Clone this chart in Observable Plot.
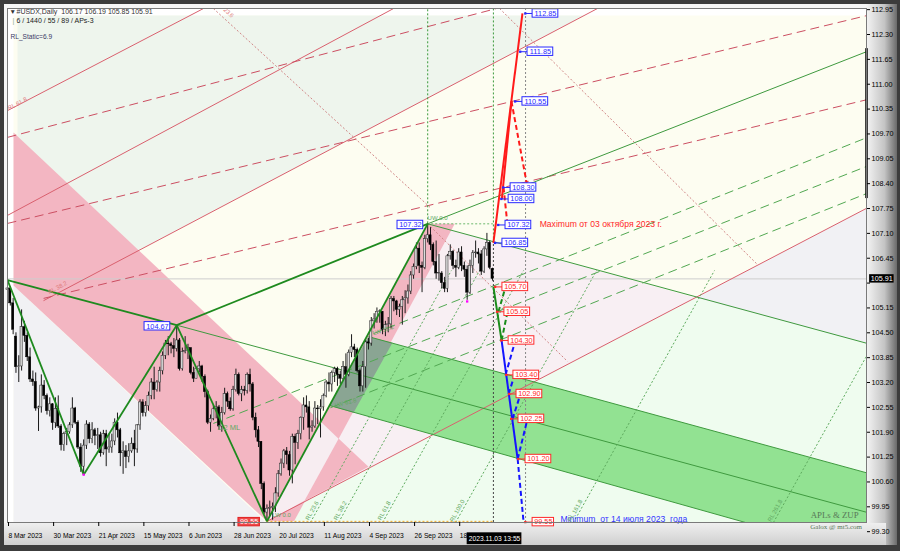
<!DOCTYPE html>
<html><head><meta charset="utf-8">
<script src="https://cdn.jsdelivr.net/npm/d3@7"></script>
<script src="https://cdn.jsdelivr.net/npm/@observablehq/plot@0.6"></script>
<style>
html,body{margin:0;padding:0;background:#3a3a3a;}
#wrap{position:relative;width:900px;height:551px;overflow:hidden;background:#3c3c3c;}
#panel{position:absolute;left:4px;top:4px;width:893px;height:541px;background:linear-gradient(to right,#f6f6f6 0%,#f6f6f6 96.5%,#c4c4c4 98.6%,#6a6a6a 100%);}
#bottom{position:absolute;left:4px;top:523px;width:882px;height:22px;background:linear-gradient(#efefef,#cfcfcf);}
#chart{position:absolute;left:0;top:0;}
</style></head>
<body><div id="wrap"><div id="panel"></div><div id="bottom"></div><div id="chart"></div></div>
<script>
// ---------- axis data ----------
const dateTicks = [0,16,32,48,64,80,96,112,128,144,160];
const dateLabels = ["8 Mar 2023","30 Mar 2023","21 Apr 2023","15 May 2023","6 Jun 2023","28 Jun 2023","20 Jul 2023","11 Aug 2023","4 Sep 2023","26 Sep 2023","18 Oct 2023"];
const priceTicks = [99.30,99.95,100.60,101.25,101.90,102.55,103.20,103.85,104.50,105.15,105.80,106.45,107.10,107.75,108.40,109.05,109.70,110.35,111.00,111.65,112.30,112.95];
const hiddenTick = 105.80; // covered by the current-price box
const currentPrice = 105.91;
const timeLabel = "2023.11.03 13:55";
const timeIdx = 172.7;

// ---------- daily candles (bar index 0 = 8 Mar 2023) ----------
const opens = [105.62,105.66,105.27,104.40,103.60,103.62,104.65,104.42,103.86,103.28,
103.21,102.52,102.55,103.12,102.85,102.45,102.63,102.14,102.51,102.05,
101.56,101.85,101.90,102.08,102.52,102.15,101.50,101.00,101.55,102.10,
101.72,101.95,101.80,101.82,101.35,101.85,101.45,101.50,101.66,102.15,
101.95,101.35,101.40,101.25,101.40,101.60,101.45,102.08,102.68,102.40,
102.58,102.85,103.20,103.00,103.20,103.50,103.90,104.22,104.20,104.15,
104.08,104.30,103.55,104.00,104.02,104.10,103.45,103.30,103.55,103.62,
103.35,102.95,102.15,102.25,102.50,102.55,102.05,102.40,102.90,102.70,
102.50,103.00,103.40,102.90,103.00,102.98,103.40,103.15,102.28,101.95,
101.65,100.55,99.80,99.90,99.92,99.95,100.30,100.80,101.08,101.40,
101.30,100.90,101.78,101.62,101.85,102.28,102.60,102.55,102.02,102.05,
102.52,102.50,102.55,102.85,103.20,103.15,103.45,103.55,103.40,103.30,
103.60,103.40,103.98,104.12,104.05,103.50,103.10,103.60,104.25,104.22,
104.80,104.85,105.05,105.05,104.58,104.70,104.72,105.38,105.32,105.10,
105.18,105.35,105.40,105.58,106.00,106.22,106.70,106.25,106.20,106.95,
107.05,106.80,106.35,106.05,106.05,105.80,105.65,106.50,106.62,106.25,
106.20,106.60,106.25,106.15,105.55,106.25,106.58,106.60,106.55,106.10,
106.68,106.85,106.17];
const highs = [105.88,105.70,105.40,104.50,103.90,105.10,104.80,104.50,104.10,103.50,
103.45,102.58,103.40,103.25,102.90,102.80,102.65,102.80,102.85,102.10,
101.90,102.00,102.15,102.80,102.55,102.20,101.60,101.70,102.20,102.15,
102.15,102.00,102.00,101.90,101.95,101.95,101.85,101.85,102.25,102.40,
102.00,101.65,101.55,101.60,101.75,101.95,102.10,102.75,102.75,102.70,
102.95,103.30,103.60,103.25,103.60,104.00,104.30,104.40,104.25,104.35,
104.70,104.35,104.10,104.40,104.20,104.10,103.60,103.60,103.75,103.65,
103.40,103.00,102.35,102.60,102.70,102.60,102.55,103.05,102.95,102.80,
103.10,103.55,103.45,103.10,103.10,103.45,103.55,103.20,102.40,102.05,
101.65,100.60,100.00,100.10,100.05,100.45,100.90,101.20,101.45,101.50,
101.40,101.85,101.85,101.95,102.30,102.80,102.85,102.70,102.20,102.70,
102.60,102.75,102.90,103.25,103.45,103.50,103.60,103.60,103.50,103.75,
103.95,104.05,104.45,104.20,104.10,103.55,103.75,104.30,104.35,104.90,
105.00,105.15,105.10,105.05,104.80,104.90,105.45,105.45,105.35,105.25,
105.45,105.60,105.75,106.10,106.30,106.85,106.85,106.35,107.05,107.35,
107.25,106.85,106.90,106.55,106.10,105.95,106.55,106.80,106.65,106.40,
106.70,106.75,106.35,106.25,106.40,106.65,106.90,106.70,106.65,106.75,
107.10,106.90,106.19];
const lows = [105.45,105.20,104.45,103.44,103.20,103.50,104.25,103.75,103.20,103.10,
102.45,101.92,102.40,102.75,102.35,102.30,101.95,102.00,102.00,101.41,
101.40,101.55,101.85,102.00,102.10,101.45,100.85,100.79,101.45,101.60,
101.60,101.55,101.45,101.25,101.30,101.00,101.35,101.35,101.55,101.75,
101.00,100.80,100.95,101.10,101.35,101.00,101.35,101.95,102.30,102.30,
102.45,102.75,102.75,102.95,102.95,103.40,103.80,103.90,103.95,103.85,
104.00,103.50,103.50,103.95,103.80,103.40,103.20,103.30,103.45,103.20,
102.80,102.10,101.90,102.20,102.25,101.95,101.90,102.35,102.55,102.45,
102.45,102.95,102.85,102.70,102.85,102.90,102.95,102.20,101.75,101.50,
100.40,99.75,99.57,99.70,99.60,99.80,100.20,100.75,100.95,101.05,
100.75,100.55,101.05,101.45,101.70,101.95,102.40,101.70,101.90,102.00,
102.10,101.75,102.45,102.80,102.95,102.95,103.20,103.10,103.15,103.25,
103.05,103.35,103.85,103.85,103.45,102.95,102.95,103.05,104.05,104.15,
104.60,104.75,104.75,104.45,104.40,104.50,104.60,105.05,104.95,104.90,
104.70,105.00,105.25,105.50,105.90,106.15,106.05,105.55,106.15,106.85,
106.65,106.25,105.90,105.85,105.65,105.55,105.55,106.40,106.15,105.95,
106.15,106.10,105.95,105.35,105.50,106.05,106.45,106.30,106.00,106.05,
106.50,106.15,105.85];
const closes = [105.66,105.27,104.58,103.60,103.62,104.65,104.42,103.86,103.28,103.21,
102.52,102.55,103.12,102.85,102.45,102.63,102.14,102.51,102.05,101.56,
101.85,101.90,102.08,102.52,102.15,101.50,101.00,101.55,102.10,101.72,
101.95,101.80,101.82,101.35,101.85,101.45,101.50,101.66,102.15,101.95,
101.35,101.40,101.25,101.40,101.60,101.45,102.08,102.68,102.40,102.58,
102.85,103.20,103.00,103.20,103.50,103.90,104.22,104.20,104.15,104.08,
104.30,103.55,104.00,104.02,104.10,103.45,103.30,103.55,103.62,103.35,
102.95,102.15,102.25,102.50,102.55,102.05,102.40,102.90,102.70,102.50,
103.00,103.40,102.90,103.00,102.98,103.40,103.15,102.28,101.95,101.65,
100.55,99.80,99.90,99.92,99.95,100.30,100.80,101.08,101.40,101.30,
100.90,101.78,101.62,101.85,102.28,102.60,102.55,102.02,102.05,102.52,
102.50,102.55,102.85,103.20,103.15,103.45,103.55,103.40,103.30,103.60,
103.40,103.98,104.12,104.05,103.50,103.10,103.60,104.25,104.22,104.80,
104.85,105.05,105.05,104.58,104.70,104.72,105.38,105.32,105.10,105.18,
105.35,105.40,105.58,106.00,106.22,106.70,106.25,106.20,106.95,107.05,
106.80,106.35,106.05,106.05,105.80,105.65,106.50,106.62,106.25,106.20,
106.60,106.25,106.15,105.55,106.25,106.58,106.60,106.55,106.10,106.68,
106.85,106.20,105.91];

// ---------- ZUP pivots ----------
const pivotIdx   = [0, 27, 60, 92, 149];
const pivotPrice = [105.88, 100.79, 104.70, 99.57, 107.35];
const zigPairs   = [[0,1],[1,2],[2,3],[3,4],[0,2],[2,4]];
const pivotBoxText  = ["104.67","107.32","99.55"];
const pivotBoxPrice = [104.67, 107.32, 99.55];
const pivotBoxIdx   = [48.6, 138.3, 81.9];
const magentaIdx = [27, 163];
const magentaPrice = [100.79, 105.32];

// ---------- background zones [barIndex, price] ----------
const zoneCream      = [[2.13,99.54],[304.6,99.54],[304.6,112.80],[2.13,112.80]];
const zonePaleGreen  = [[3.55,112.80],[204.6,112.80],[12.77,105.34],[3.55,105.34]];
const zoneGrayLeft   = [[2.13,105.74],[91.0,99.59],[91.0,99.54],[2.13,99.54]];
const zonePinkWhite  = [[92,99.57],[149,107.35],[244,105.42]];
const zoneMint       = [[92,99.57],[244,105.42],[305,104.22],[305,99.54],[92,99.54]];
const zoneGrayRight  = [[244,105.42],[305,107.77],[305,104.22]];
const pinkBand1      = [[2.13,109.74],[128.0,101.00],[92,99.57],[2.13,105.74]];
const pinkBand2      = [[92,99.57],[149,107.35],[158.6,107.35],[101.6,99.57]];
const bandOverlap    = [[111.0,102.18],[117.4,101.73],[105.3,100.11],[92,99.57]];
const greenChannel   = [[128.0,104.40],[304.6,100.84],[304.6,98.65],[114.2,102.60]];
const channelOverlap = [[128.0,104.40],[136.5,104.24],[122.7,102.41],[114.2,102.60]];

// ---------- lines [idx1, price1, idx2, price2] ----------
const redSolidLines = [[0,110.31,69.5,112.98],[0,107.57,136.9,112.98],[12.77,105.34,209.2,112.98],[92,99.57,305,107.77]];
const redDashedLines = [[0,109.61,173.4,112.98],[0,107.36,305,112.80],[12.8,105.40,305,110.60]];
const redDottedLines = [[73.0,112.98,150.0,107.77],[174.5,112.98,266,106.28],[149,107.35,198.6,103.75]];
const greenThinLines = [[149,107.35,304.6,111.85],[149,107.35,305,104.22],[60,104.70,305,99.80],[128.0,104.40,304.6,100.84],[114.2,102.60,304.6,98.65]];
const greenDashedLines = [[129.8,104.48,304.6,109.60],[73.0,102.13,304.6,108.85],[114.5,102.54,304.6,108.14]];
const rlNames     = ["RL 23.6","RL 38.2","RL 61.8","RL 100.0","RL 161.8","RL 261.8"];
const rlBottomIdx = [107.4,117.4,133.0,158.9,200.7,271.6];
const rlTopIdx    = [157.4,167.4,183.0,208.9,250.7,321.6];
const rlBottomPrice = 99.54, rlTopPrice = 106.13;
const greenVDotted = [[149,107.35,112.98],[172.3,106.85,112.98]];
const darkVDotted  = [[172.3,99.54,106.85]];
const grayVDotted  = [[183.7,99.54,112.98]];
const greenHDotted = [[149,172.3,107.35]];
const orangeHDotted = [[92,172.3,99.57]];

// ---------- projections ----------
const projRedSolid   = [[172.3,106.85,182.6,112.85],[175.3,108.00,178.7,110.55]];
const projRedDash    = [[178.7,110.55,184.4,108.30],[175.9,108.30,177.3,107.32]];
const projGreenSolid = [[172.3,105.70,175.2,104.30]];
const projGreenDash  = [[174.1,105.05,176.6,105.70],[175.2,104.30,177.3,105.05]];
const projBlueSolid  = [[175.2,104.30,180.9,101.20]];
const projBlueDash   = [[180.9,101.20,183.0,99.55],[176.6,103.40,180.1,104.30],[177.7,102.90,179.8,103.40],[179.1,102.25,181.9,102.90],[180.9,101.20,184.4,102.25]];
const upLevels   = [112.85,111.85,110.55,108.30,108.00,107.32,106.85];
const upBoxIdx   = [186.2,184.4,182.6,178.4,177.7,176.6,175.5];
const downLevels = [105.70,105.05,104.30,103.40,102.90,102.25,101.20,99.55];
const downBoxIdx = [175.5,176.2,177.7,179.4,180.5,181.2,183.7,186.2];

// ---------- texts ----------
const maxText = "Maximum от 03 октября 2023 г.";
const maxPos = [188.7, 107.33];
const minText = "Minimum\u00a0 от 14 июля 2023\u00a0 года";
const minPos = [196.1, 99.62];
const header1 = "#USDX,Daily  106.17 106.19 105.85 105.91";
const header2 = "6 / 1440 / 55 / 89 / APs-3";
const header3 = "RL_Static=6.9";
const brand1 = "APLs & ZUP", brand2 = "Galox @ mt5.com";
const brandIdx = [301.8, 303.0], brandPrice = [99.72, 99.44];
const redFanLabels = [{t:"RL 61.8", x:3.5, y:110.49, r:-28},{t:"RL 38.2", x:17.7, y:105.68, r:-28},{t:"23.6", x:78.4, y:112.87, r:43}];
const greenNotes = [{t:"1/2 ML", x:78.4, y:102.02, r:0, s:7.5},{t:"UW 0.0", x:152.5, y:107.50, r:0, s:6},{t:"LW 38.2", x:133.3, y:104.57, r:-18, s:6},{t:"LW 61.8", x:119.9, y:102.67, r:-15, s:6},{t:"LW 0.0", x:97.2, y:99.73, r:0, s:6}];

// ================= build =================
const candles = opens.map((o,i)=>({i, o, h:highs[i], l:lows[i], c:closes[i]}));
const bull = candles.filter(d=>d.c>=d.o), bear = candles.filter(d=>d.c<d.o);
const F = "Liberation Sans, Arial, sans-serif";

const seg = (arr, o) => Plot.link(arr, {x1:d=>d[0], y1:d=>d[1], x2:d=>d[2], y2:d=>d[3], clip:true, ...o});
const poly = (pts, fill) => Plot.line(pts, {x:d=>d[0], y:d=>d[1], fill, stroke:"none", curve:"linear-closed", clip:true});
const zig = zigPairs.map(([a,b])=>[pivotIdx[a],pivotPrice[a],pivotIdx[b],pivotPrice[b]]);
const rlSegs = rlBottomIdx.map((b,k)=>[b, rlBottomPrice, rlTopIdx[k], rlTopPrice]);
const rlLabels = rlNames.map((t,k)=>({t, x: rlBottomIdx[k]+0.6, y: 99.85}));

const boxRows = (levels, xs) => levels.map((p,k)=>({p, x:xs[k], t:p.toFixed(2)}));
const upRows = boxRows(upLevels, upBoxIdx), downRows = boxRows(downLevels, downBoxIdx);
const pivRows = pivotBoxText.map((t,k)=>({t, p:pivotBoxPrice[k], x:pivotBoxIdx[k]}));
const bw = t => t.length*1.52;

function labelBoxes(rows, color, fill, txt) {
  return [
    Plot.link(rows, {x1:d=>d.x-2.6, x2:d=>d.x, y1:"p", y2:"p", stroke:color, strokeWidth:1}),
    Plot.dot(rows, {x:d=>d.x-2.6, y:"p", r:1.3, symbol:"square", fill:color, stroke:"none"}),
    Plot.rect(rows, {x1:d=>d.x, x2:d=>d.x+bw(d.t), y1:d=>d.p-0.11, y2:d=>d.p+0.11, fill, stroke:color, strokeWidth:1}),
    Plot.text(rows, {x:d=>d.x+bw(d.t)/2, y:"p", text:"t", fill:txt, fontSize:7.3, fontFamily:F})
  ];
}

const chart = Plot.plot({
  width: 900, height: 551,
  marginLeft: 7, marginRight: 34, marginTop: 8, marginBottom: 29,
  x: {domain: [0, 304.6]},
  y: {domain: [99.54, 112.98]},
  style: {background: "transparent", fontFamily: F, overflow: "visible"},
  marks: [
    Plot.frame({fill: "#ffffff", stroke: "none"}),
    poly(zoneCream, "#fdfdf1"),
    poly(zonePaleGreen, "#eef5ed"),
    poly(zoneGrayLeft, "#f1f1f4"),
    poly(zonePinkWhite, "#f8eff3"),
    poly(zoneMint, "#effcef"),
    poly(zoneGrayRight, "#f1f1f4"),
    poly(pinkBand1, "#f3b6c2"),
    poly(pinkBand2, "#f3b6c2"),
    poly(bandOverlap, "#f7edf1"),
    poly(greenChannel, "#92e292"),
    poly(channelOverlap, "#8aa593"),
    Plot.ruleY([currentPrice], {stroke: "#cdcdcd", strokeWidth: 1}),

    seg(redSolidLines, {stroke: "#d9606e", strokeWidth: 1}),
    seg(redDashedLines, {stroke: "#cc4f62", strokeWidth: 1, strokeDasharray: "9,5"}),
    seg(redDottedLines, {stroke: "#d08585", strokeWidth: 1, strokeDasharray: "2,2"}),
    seg(greenThinLines, {stroke: "#3f9a3f", strokeWidth: 1}),
    seg(greenDashedLines, {stroke: "#52a852", strokeWidth: 1, strokeDasharray: "9,5"}),
    seg(rlSegs, {stroke: "#5eaa5e", strokeWidth: 1, strokeDasharray: "2,2"}),
    Plot.ruleX(greenVDotted, {x:d=>d[0], y1:d=>d[1], y2:d=>d[2], stroke:"#3c9a3c", strokeDasharray:"2,2", clip:true}),
    Plot.ruleX(darkVDotted, {x:d=>d[0], y1:d=>d[1], y2:d=>d[2], stroke:"#444", strokeDasharray:"2,2", clip:true}),
    Plot.ruleX(grayVDotted, {x:d=>d[0], y1:d=>d[1], y2:d=>d[2], stroke:"#888", strokeDasharray:"2,2", clip:true}),
    Plot.ruleY(greenHDotted, {x1:d=>d[0], x2:d=>d[1], y:d=>d[2], stroke:"#6cb86c", strokeDasharray:"2,2"}),
    Plot.ruleY(orangeHDotted, {x1:d=>d[0], x2:d=>d[1], y:d=>d[2], stroke:"#f5a623", strokeDasharray:"2,2"}),

    // candles
    Plot.ruleX(candles, {x:"i", y1:"l", y2:"h", stroke:"#1a1a1a", strokeWidth:1}),
    Plot.rect(bull, {x1:d=>d.i-0.38, x2:d=>d.i+0.38, y1:"o", y2:d=>Math.max(d.c, d.o+0.012), fill:"#dcdcdc", stroke:"#222", strokeWidth:0.5}),
    Plot.rect(bear, {x1:d=>d.i-0.38, x2:d=>d.i+0.38, y1:"c", y2:"o", fill:"#000", stroke:"#000", strokeWidth:0.5}),

    // zigzag
    seg(zig, {stroke: "#1e8a1e", strokeWidth: 1.8}),
    Plot.dot(magentaIdx.map((x,k)=>[x, magentaPrice[k]]), {x:d=>d[0], y:d=>d[1], r:1.3, symbol:"square", fill:"#ff00ff", stroke:"none"}),

    // projections
    seg(projRedSolid, {stroke:"#ff1a1a", strokeWidth:2}),
    seg(projRedDash, {stroke:"#ff1a1a", strokeWidth:2, strokeDasharray:"5,3"}),
    seg(projGreenSolid, {stroke:"#1a8c1a", strokeWidth:2}),
    seg(projGreenDash, {stroke:"#1a8c1a", strokeWidth:2, strokeDasharray:"5,3"}),
    seg(projBlueSolid, {stroke:"#1414ff", strokeWidth:2}),
    seg(projBlueDash, {stroke:"#1414ff", strokeWidth:2, strokeDasharray:"5,3"}),
    ...labelBoxes(upRows, "#2a2aff", "#ffffff", "#2a2aff"),
    ...labelBoxes(downRows, "#ff2a2a", "#ffffff", "#ff2a2a"),
    Plot.rect(pivRows, {x1:"x", x2:d=>d.x+bw(d.t), y1:d=>d.p-0.11, y2:d=>d.p+0.11,
      fill:d=>d.p<100?"#f04a4a":"#ffffff", stroke:d=>d.p<100?"#e02020":"#2a2aff", strokeWidth:1}),
    Plot.text(pivRows, {x:d=>d.x+bw(d.t)/2, y:"p", text:"t", fill:d=>d.p<100?"#ffffff":"#2a2aff", fontSize:7.3}),

    // texts
    Plot.text([maxText], {x:maxPos[0], y:maxPos[1], textAnchor:"start", fill:"#ff2828", fontSize:8.6}),
    Plot.text([minText], {x:minPos[0], y:minPos[1], textAnchor:"start", fill:"#3434ff", fontSize:8.6}),
    Plot.text([brand1], {x:brandIdx[0], y:brandPrice[0], textAnchor:"end", fill:"#587858", fontSize:8.8, fontFamily:"Liberation Serif, Times New Roman, serif"}),
    Plot.text([brand2], {x:brandIdx[1], y:brandPrice[1], textAnchor:"end", fill:"#587858", fontSize:7, fontFamily:"Liberation Serif, Times New Roman, serif"}),
    Plot.text(redFanLabels, {x:"x", y:"y", text:"t", rotate:"r", fill:"#e07a7a", fontSize:6}),
    Plot.text(greenNotes, {x:"x", y:"y", text:"t", rotate:"r", fontSize:"s", fill:"#62a862"}),
    Plot.text(rlLabels, {x:"x", y:"y", text:"t", rotate:-61, fill:"#62a862", fontSize:6}),
    Plot.text(["▼"], {frameAnchor:"top-left", dx:2, dy:1, fontSize:6.5, fill:"#333"}),
    Plot.text([header1], {frameAnchor:"top-left", dx:9, dy:1, fontSize:7, fill:"#333"}),
    Plot.text(["|"], {frameAnchor:"top-left", dx:5, dy:9.5, fontSize:7, fill:"#8a8"}),
    Plot.text([header2], {frameAnchor:"top-left", dx:9, dy:10, fontSize:7, fill:"#222"}),
    Plot.text([header3], {frameAnchor:"top-left", dx:3, dy:26, fontSize:6.6, fill:"#3a3a66"}),

    // right edge marker + price box + time box
    Plot.ruleX([304.6], {y1:108.01, y2:111.93, stroke:"#000", strokeWidth:2.5}),
    Plot.frame({stroke:"#7a7a7a"}),
    Plot.axisY(priceTicks, {anchor:"right", tickFormat:d=>d===hiddenTick?"":d.toFixed(2), tickSize:3, tickPadding:2, fontSize:7.2, textAnchor:"start"}),
    Plot.axisX(dateTicks, {anchor:"bottom", tickFormat:d=>dateLabels[dateTicks.indexOf(d)], tickSize:4, tickPadding:7, fontSize:6.7, textAnchor:"start", dx:1}),
    Plot.rect([currentPrice], {x1:305.7, x2:314.4, y1:d=>d-0.11, y2:d=>d+0.11, fill:"#000"}),
    Plot.text([currentPrice], {x:306.1, y:d=>d, text:d=>d.toFixed(2), textAnchor:"start", fill:"#fff", fontSize:7.2}),
    Plot.rect([timeLabel], {x1:timeIdx-9.7, x2:timeIdx+9.7, y1:98.96, y2:99.27, fill:"#000"}),
    Plot.text([timeLabel], {x:timeIdx, y:99.11, fill:"#fff", fontSize:6.7})
  ]
});
document.getElementById("chart").appendChild(chart);
</script>
</body></html>
